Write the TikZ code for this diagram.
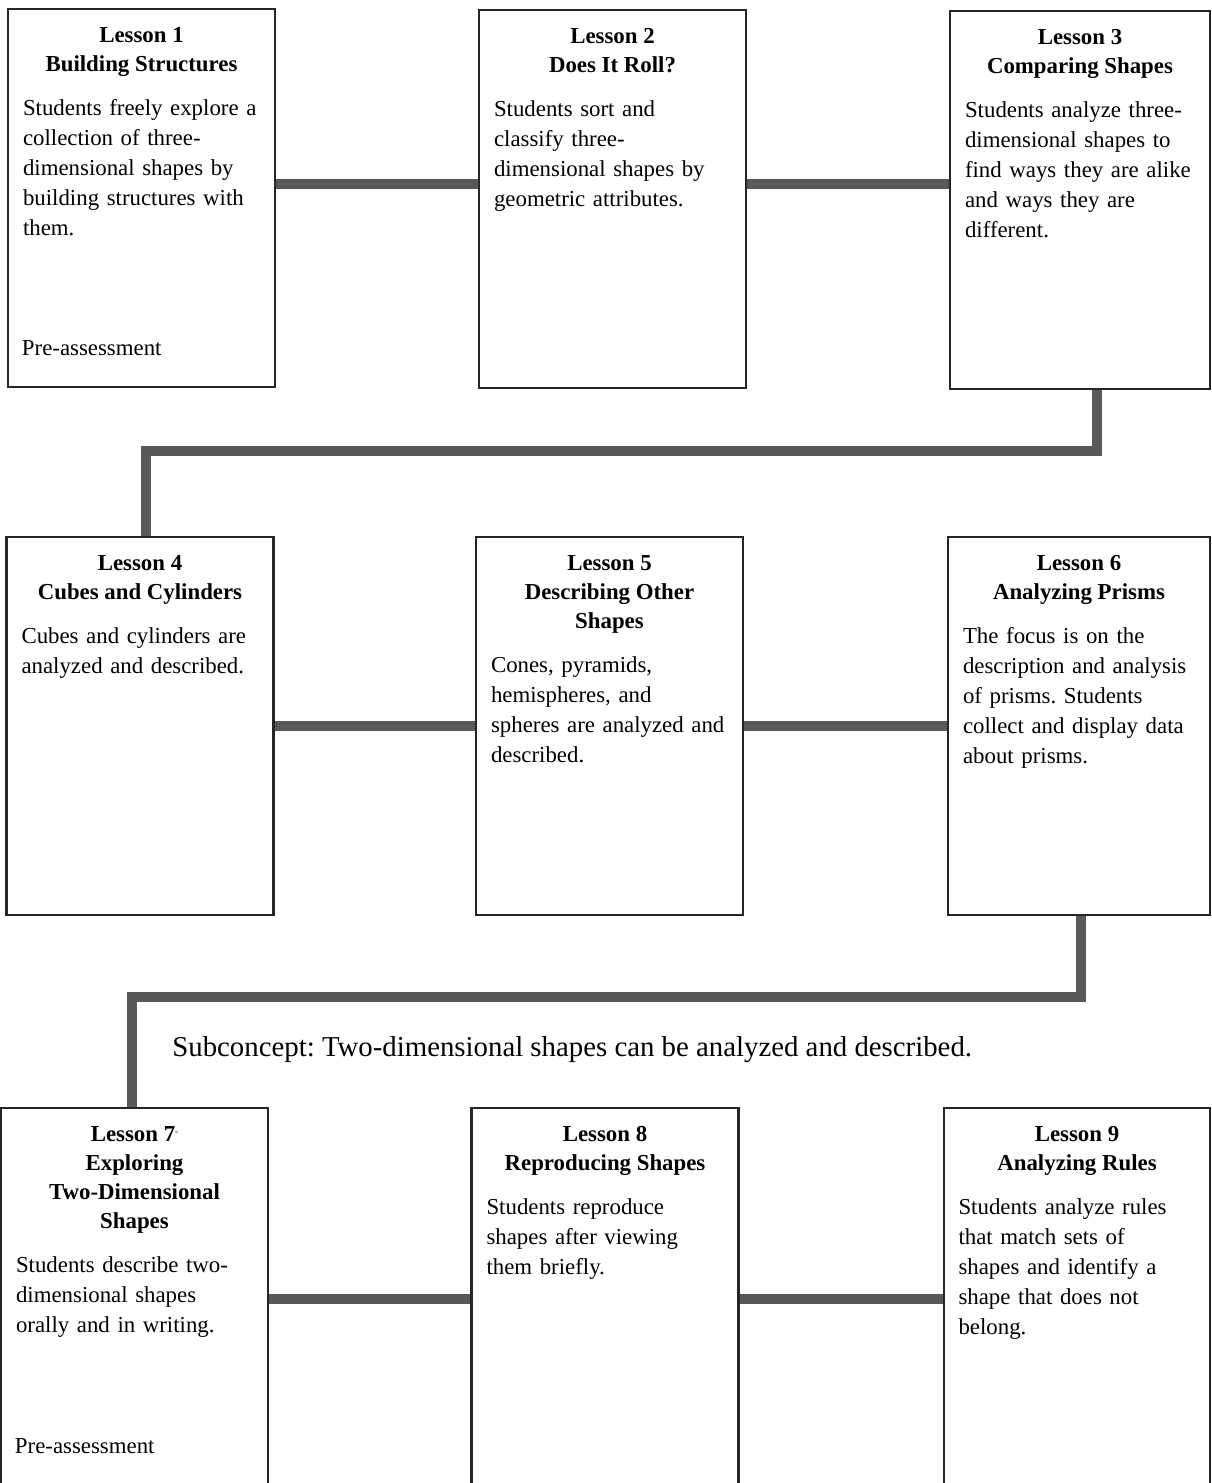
\documentclass[tikz,border=0pt]{standalone}
\usepackage{fontspec}
\setmainfont{Liberation Serif}
\usetikzlibrary{positioning}

\begin{document}
\frenchspacing
\begin{tikzpicture}[x=0.02cm,y=-0.02cm,
    lesson/.style={rectangle,draw=black!85,fill=white,line width=1.6pt,minimum width=5.34cm,minimum height=7.56cm,inner sep=0pt},
    heading/.style={align=center,inner sep=0pt,font=\fontsize{13}{16.5}\selectfont\bfseries},
    body/.style={align=left,text width=4.74cm,inner sep=0pt,font=\fontsize{13}{17}\selectfont},
    note/.style={anchor=base west,inner sep=0pt,font=\fontsize{13}{17}\selectfont},
    link/.style={draw=black!65,line width=5.5pt}]
    \path [use as bounding box,clip] (0,0) rectangle (1211,1483);
    % joints of the links between the rows
    \coordinate (j1) at (1097,451);
    \coordinate (j2) at (146,451);
    \coordinate (j3) at (1081,997);
    \coordinate (j4) at (132,997);
    % row 1
    \node [lesson] (l1) at (141.5,198) {};
    \node [lesson] (l2) at (612.5,199) {};
    \node [lesson, minimum width=5.2cm] (l3) at (1080,200) {};
    \node [heading, below=0.28cm of l1.north] (t1) {\strut Lesson 1\\Building Structures\strut};
    \node [heading, below=0.28cm of l2.north] (t2) {\strut Lesson 2\\Does It Roll?\strut};
    \node [heading, below=0.28cm of l3.north] (t3) {\strut Lesson 3\\Comparing Shapes\strut};
    \node [body, below=0.28cm of t1] (b1) {\strut Students freely explore a\\collection of three-\\dimensional shapes by\\building structures with\\them.};
    \node [body, below=0.28cm of t2] (b2) {\strut Students sort and\\classify three-\\dimensional shapes by\\geometric attributes.};
    \node [body, text width=4.6cm, below=0.28cm of t3] (b3) {\strut Students analyze three-\\dimensional shapes to\\find ways they are alike\\and ways they are\\different.};
    \node [note] (p1) at ([xshift=0.3cm,yshift=-6.96cm]l1.north west) {Pre-assessment};
    % row 2
    \node [lesson] (l4) at (140,726) {};
    \node [lesson] (l5) at (609.5,726) {};
    \node [lesson, minimum width=5.24cm] (l6) at (1079,726) {};
    \node [heading, below=0.28cm of l4.north] (t4) {\strut Lesson 4\\Cubes and Cylinders\strut};
    \node [heading, below=0.28cm of l5.north] (t5) {\strut Lesson 5\\Describing Other\\Shapes\strut};
    \node [heading, below=0.28cm of l6.north] (t6) {\strut Lesson 6\\Analyzing Prisms\strut};
    \node [body, below=0.28cm of t4] (b4) {\strut Cubes and cylinders are\\analyzed and described.};
    \node [body, below=0.28cm of t5] (b5) {\strut Cones, pyramids,\\hemispheres, and\\spheres are analyzed and\\described.};
    \node [body, text width=4.64cm, below=0.28cm of t6] (b6) {\strut The focus is on the\\description and analysis\\of prisms. Students\\collect and display data\\about prisms.};
    % row 3
    \node [lesson, minimum height=7.64cm] (l7) at (134.5,1299) {};
    \node [lesson, minimum height=7.64cm] (l8) at (605,1299) {};
    \node [lesson, minimum width=5.32cm, minimum height=7.64cm] (l9) at (1077,1299) {};
    \node [heading, below=0.28cm of l7.north] (t7) {\strut Lesson 7\raisebox{0.6ex}{\tiny -}\\Exploring\\Two-Dimensional\\Shapes\strut};
    \node [heading, below=0.28cm of l8.north] (t8) {\strut Lesson 8\\Reproducing Shapes\strut};
    \node [heading, below=0.28cm of l9.north] (t9) {\strut Lesson 9\\Analyzing Rules\strut};
    \node [body, below=0.28cm of t7] (b7) {\strut Students describe two-\\dimensional shapes\\orally and in writing.};
    \node [body, below=0.28cm of t8] (b8) {\strut Students reproduce\\shapes after viewing\\them briefly.};
    \node [body, below=0.28cm of t9] (b9) {\strut Students analyze rules\\that match sets of\\shapes and identify a\\shape that does not\\belong.};
    \node [note] (p7) at ([xshift=0.3cm,yshift=-6.94cm]l7.north west) {Pre-assessment};
    \node [anchor=west, inner sep=0pt, font=\fontsize{16.4}{20}\selectfont] (sub) at (172,1050) {Subconcept: Two-dimensional shapes can be analyzed and described.};
    % links
    \draw [link] ([yshift=0.28cm]l1.east) -- ([yshift=0.28cm]l1.east -| l2.west);
    \draw [link] ([yshift=0.3cm]l2.east) -- ([yshift=0.3cm]l2.east -| l3.west);
    \draw [link] (l3.south -| j1) -- (j1) -- (j2) -- (l4.north -| j2);
    \draw [link] (l4) -- (l5);
    \draw [link] (l5) -- (l6);
    \draw [link] (l6.south -| j3) -- (j3) -- (j4) -- (l7.north -| j4);
    \draw [link] (l7) -- (l8);
    \draw [link] (l8) -- (l9);
\end{tikzpicture}
\end{document}
